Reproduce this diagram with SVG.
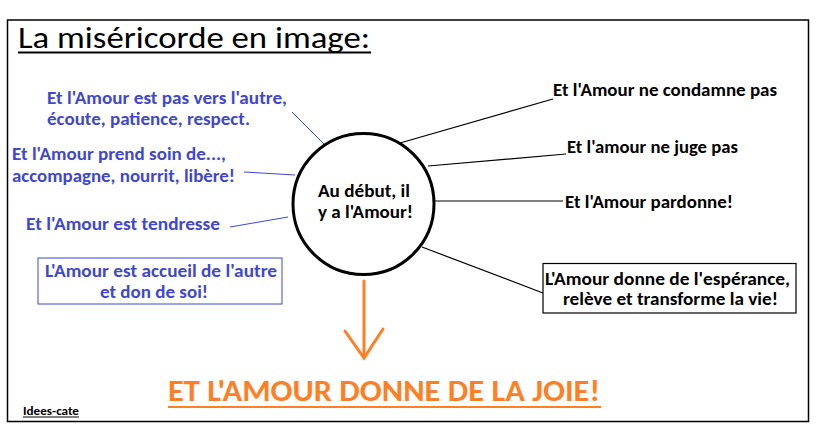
<svg xmlns="http://www.w3.org/2000/svg" width="827" height="439" viewBox="0 0 827 439">
<style>
text{font-family:Carlito,Lato,"Liberation Sans",sans-serif;font-weight:bold;font-size:18px}
.b{fill:#3F48CC}
.k{fill:#000}
.c{text-anchor:middle}
.bl{stroke:#3F48CC;stroke-width:1;fill:none}
.kl{stroke:#000;stroke-width:1.2;fill:none}
</style>
<rect x="0" y="0" width="827" height="439" fill="#fff"/>
<rect x="7.5" y="20" width="801" height="401.5" fill="none" stroke="#000" stroke-width="1.5"/>
<g id="title">
<text x="18" y="48" style="font-size:31px;font-weight:normal" textLength="352" lengthAdjust="spacingAndGlyphs">La miséricorde en image:</text>
<line x1="18" y1="52.5" x2="371" y2="52.5" stroke="#000" stroke-width="1.8"/>
</g>
<g id="connectors">
<line class="bl" x1="292" y1="112" x2="325" y2="145"/>
<line class="bl" x1="244" y1="172" x2="295" y2="175"/>
<line class="bl" x1="230" y1="227" x2="288" y2="217"/>
<line class="kl" x1="400" y1="143" x2="553" y2="99"/>
<line class="kl" x1="428" y1="166" x2="566" y2="154"/>
<line class="kl" x1="435" y1="201" x2="563" y2="201"/>
<line class="kl" x1="422" y1="247" x2="543" y2="293"/>
<g id="arrow" stroke="#FF7F27" stroke-width="3" fill="none" stroke-linecap="round">
<line x1="364" y1="281" x2="364" y2="354"/>
<polyline points="345,331 364,358 383,329"/>
</g>
</g>
<g id="center">
<circle cx="363.5" cy="204" r="70.5" fill="#fff" stroke="#000" stroke-width="3"/>
<text class="k" x="318" y="197" textLength="92" lengthAdjust="spacingAndGlyphs">Au début, il</text>
<text class="k" x="318" y="218" textLength="95" lengthAdjust="spacingAndGlyphs">y a l'Amour!</text>
</g>
<g id="n-vers-autre">
<text class="b" x="47" y="104" textLength="240" lengthAdjust="spacingAndGlyphs">Et l'Amour est pas vers l'autre,</text>
<text class="b" x="47" y="125" textLength="203" lengthAdjust="spacingAndGlyphs">écoute, patience, respect.</text>
</g>
<g id="n-prend-soin">
<text class="b" x="12" y="160" textLength="214" lengthAdjust="spacingAndGlyphs">Et l'Amour prend soin de...,</text>
<text class="b" x="12" y="182" textLength="223" lengthAdjust="spacingAndGlyphs">accompagne, nourrit, libère!</text>
</g>
<g id="n-tendresse">
<text class="b" x="26" y="230" textLength="194" lengthAdjust="spacingAndGlyphs">Et l'Amour est tendresse</text>
</g>
<g id="n-accueil">
<rect x="38" y="258" width="244" height="46" fill="none" stroke="#3F48CC" stroke-width="1"/>
<text class="b" x="45" y="277" textLength="232" lengthAdjust="spacingAndGlyphs">L'Amour est accueil de l'autre</text>
<text class="b" x="100" y="298" textLength="108" lengthAdjust="spacingAndGlyphs">et don de soi!</text>
</g>
<g id="n-condamne">
<text class="k" x="553" y="96" textLength="224" lengthAdjust="spacingAndGlyphs">Et l'Amour ne condamne pas</text>
</g>
<g id="n-juge">
<text class="k" x="567" y="153" textLength="171" lengthAdjust="spacingAndGlyphs">Et l'amour ne juge pas</text>
</g>
<g id="n-pardonne">
<text class="k" x="565" y="208" textLength="168" lengthAdjust="spacingAndGlyphs">Et l'Amour pardonne!</text>
</g>
<g id="n-esperance">
<rect x="543" y="263.5" width="253" height="49.5" fill="#fff" stroke="#000" stroke-width="1.2"/>
<text class="k" x="545" y="285" textLength="245" lengthAdjust="spacingAndGlyphs">L'Amour donne de l'espérance,</text>
<text class="k" x="563" y="305" textLength="215" lengthAdjust="spacingAndGlyphs">relève et transforme la vie!</text>
</g>
<g id="n-joie">
<text x="168" y="401" style="font-size:31px;fill:#FF7F27" textLength="432" lengthAdjust="spacingAndGlyphs">ET L'AMOUR DONNE DE LA JOIE!</text>
<line x1="168" y1="407" x2="601" y2="407" stroke="#FF7F27" stroke-width="2.2"/>
</g>
<g id="credit">
<text x="23" y="415" style="font-size:11px" textLength="56" lengthAdjust="spacingAndGlyphs">Idees-cate</text>
<line x1="23" y1="417" x2="79" y2="417" stroke="#000" stroke-width="1"/>
</g>
</svg>
